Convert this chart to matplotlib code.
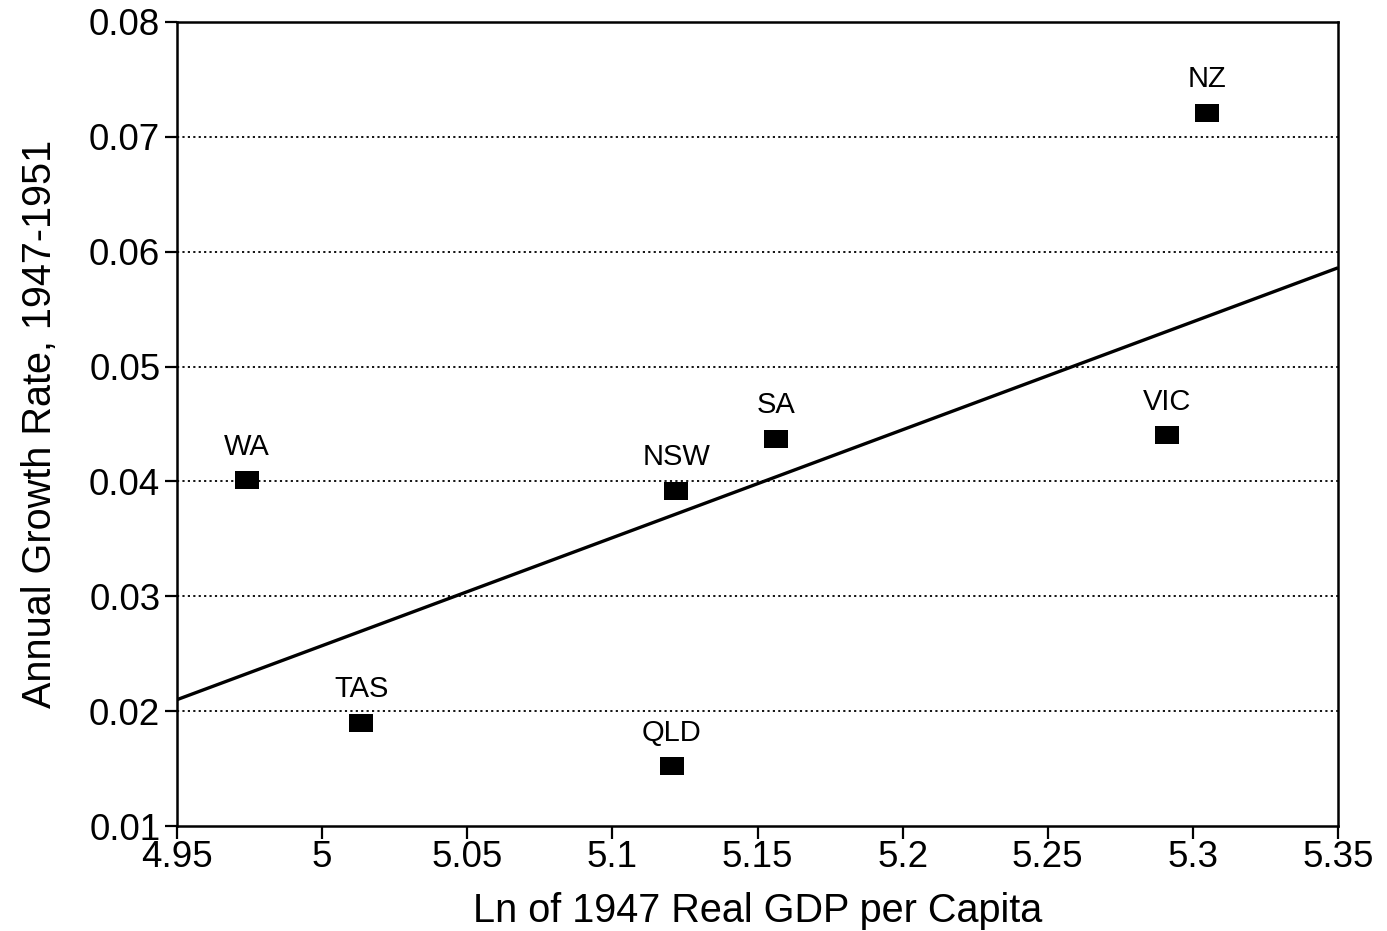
import matplotlib
matplotlib.use("Agg")
import matplotlib.pyplot as plt
import numpy as np

# Data
regions = ["WA", "TAS", "QLD", "NSW", "SA", "VIC", "NZ"]
ln_gdp_1947 = [4.974, 5.0135, 5.1205, 5.122, 5.1565, 5.291, 5.305]
growth_rate = [0.0401, 0.0190, 0.0152, 0.0392, 0.0437, 0.0440, 0.0721]

fit_x = [4.95, 5.35]
fit_y = [0.0210, 0.0586]

x_ticks = [4.95, 5.0, 5.05, 5.1, 5.15, 5.2, 5.25, 5.3, 5.35]
x_tick_labels = ["4.95", "5", "5.05", "5.1", "5.15", "5.2", "5.25", "5.3", "5.35"]
y_ticks = [0.01, 0.02, 0.03, 0.04, 0.05, 0.06, 0.07, 0.08]
y_tick_labels = ["0.01", "0.02", "0.03", "0.04", "0.05", "0.06", "0.07", "0.08"]

plt.rcParams['font.family'] = ['Liberation Sans', 'DejaVu Sans']

fig = plt.figure(figsize=(13.87, 9.31), dpi=100)
ax = fig.add_axes([177/1387, 1 - 826/931, (1338-177)/1387, (826-22)/931])

ax.set_xlim(4.95, 5.35)
ax.set_ylim(0.01, 0.08)

# grid
for yv in y_ticks[1:-1]:
    ax.axhline(yv, color='black', linestyle=(0, (1.2, 1.8)), linewidth=1.3, zorder=1)

ax.plot(fit_x, fit_y, color='black', linewidth=2.4, zorder=2, solid_capstyle='butt')

rect_marker = [(-1.35, -1), (1.35, -1), (1.35, 1), (-1.35, 1), (-1.35, -1)]
ax.scatter(ln_gdp_1947, growth_rate, marker=rect_marker, s=17**2, color='black', zorder=3, linewidths=0)

for name, xv, yv in zip(regions, ln_gdp_1947, growth_rate):
    ax.annotate(name, (xv, yv), xytext=(0, 14), textcoords='offset points',
                ha='center', va='bottom', fontsize=21, zorder=4)

ax.set_xticks(x_ticks)
ax.set_xticklabels(x_tick_labels)
ax.set_yticks(y_ticks)
ax.set_yticklabels(y_tick_labels)
ax.tick_params(axis='both', direction='out', length=9, width=1.6, labelsize=26.5, pad=3, colors='black')
ax.tick_params(axis='x', pad=1)

for sp in ax.spines.values():
    sp.set_linewidth(1.8)

ax.set_xlabel("Ln of 1947 Real GDP per Capita", fontsize=28.5, labelpad=12)
ax.set_ylabel("Annual Growth Rate, 1947-1951", fontsize=28.5, labelpad=22)

fig.savefig("out.png", dpi=100)
